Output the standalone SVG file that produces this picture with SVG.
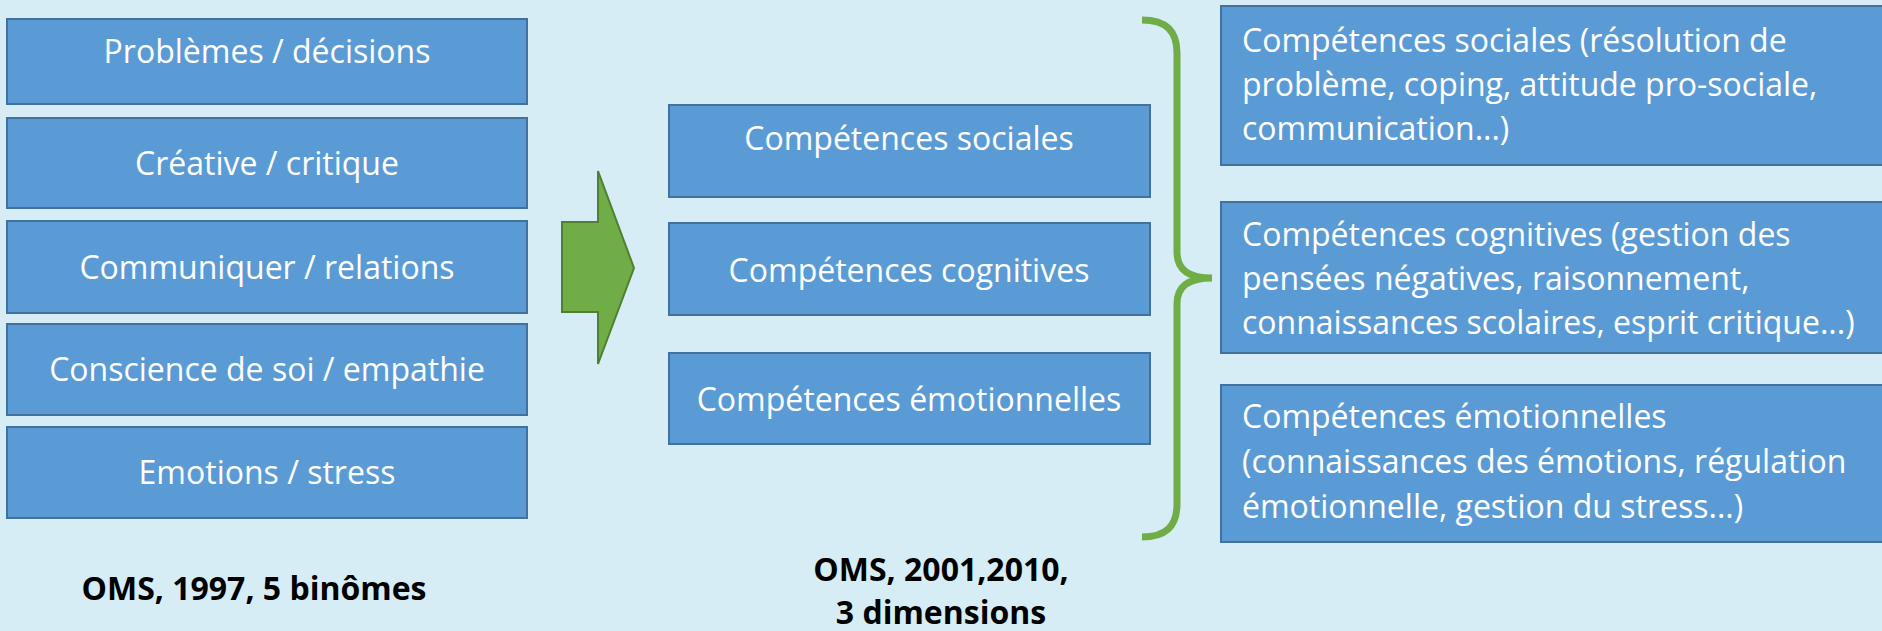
<svg xmlns="http://www.w3.org/2000/svg" width="1882" height="631" viewBox="0 0 1882 631">
  <style>
    .box { fill: #5B9BD5; stroke: #41719C; stroke-width: 2; }
    .t { font-family: "Open Sans", "Noto Sans", sans-serif; font-size: 32px; fill: #FFFFFF; }
    .c { text-anchor: middle; }
    .lbl { font-family: "Open Sans", "Noto Sans", sans-serif; font-size: 32px; font-weight: bold; fill: #000000; text-anchor: middle; }
    .arrow { fill: #70AD47; stroke: #507E32; stroke-width: 2; }
    .brace { fill: none; stroke: #70AD47; stroke-width: 7; stroke-linecap: butt; }
  </style>
  <rect x="0" y="0" width="1882" height="631" fill="#D6EDF6"/>

  <g id="left-1"><rect class="box" x="7" y="19" width="520" height="85"/><text class="t c" x="267" y="63">Problèmes / décisions</text></g>
  <g id="left-2"><rect class="box" x="7" y="118" width="520" height="90"/><text class="t c" x="267" y="175">Créative / critique</text></g>
  <g id="left-3"><rect class="box" x="7" y="221" width="520" height="92"/><text class="t c" x="267" y="279">Communiquer / relations</text></g>
  <g id="left-4"><rect class="box" x="7" y="324" width="520" height="91"/><text class="t c" x="267" y="381">Conscience de soi / empathie</text></g>
  <g id="left-5"><rect class="box" x="7" y="427" width="520" height="91"/><text class="t c" x="267" y="484">Emotions / stress</text></g>
  <g id="label-1997"><text class="lbl" x="254" y="600">OMS, 1997, 5 binômes</text></g>

  <g id="mid-1"><rect class="box" x="669" y="105" width="481" height="92"/><text class="t c" x="909" y="150">Compétences sociales</text></g>
  <g id="mid-2"><rect class="box" x="669" y="223" width="481" height="92"/><text class="t c" x="909" y="282">Compétences cognitives</text></g>
  <g id="mid-3"><rect class="box" x="669" y="353" width="481" height="91"/><text class="t c" x="909" y="411">Compétences émotionnelles</text></g>
  <g id="label-2001"><text class="lbl" x="941" y="581">OMS, 2001,2010,</text><text class="lbl" x="941" y="624">3 dimensions</text></g>

  <g id="right-1"><rect class="box" x="1221" y="6" width="680" height="159"/>
    <text class="t" x="1242" y="52">Compétences sociales (résolution de</text>
    <text class="t" x="1242" y="96">problème, coping, attitude pro-sociale,</text>
    <text class="t" x="1242" y="140">communication...)</text></g>
  <g id="right-2"><rect class="box" x="1221" y="202" width="680" height="151"/>
    <text class="t" x="1242" y="246">Compétences cognitives (gestion des</text>
    <text class="t" x="1242" y="290">pensées négatives, raisonnement,</text>
    <text class="t" x="1242" y="334">connaissances scolaires, esprit critique...)</text></g>
  <g id="right-3"><rect class="box" x="1221" y="385" width="680" height="157"/>
    <text class="t" x="1242" y="428">Compétences émotionnelles</text>
    <text class="t" x="1242" y="473">(connaissances des émotions, régulation</text>
    <text class="t" x="1242" y="518">émotionnelle, gestion du stress...)</text></g>

  <g id="connectors">
    <polygon class="arrow" points="562,222 598,222 598,171 634,268 598,364 598,312 562,312"/>
    <path class="brace" d="M1142,20 C1166,20 1177,31 1177,53 L1177,252 C1177,270 1189,278 1212,278 C1189,278 1177,286 1177,304 L1177,504 C1177,526 1166,537 1142,537"/>
  </g>
</svg>
